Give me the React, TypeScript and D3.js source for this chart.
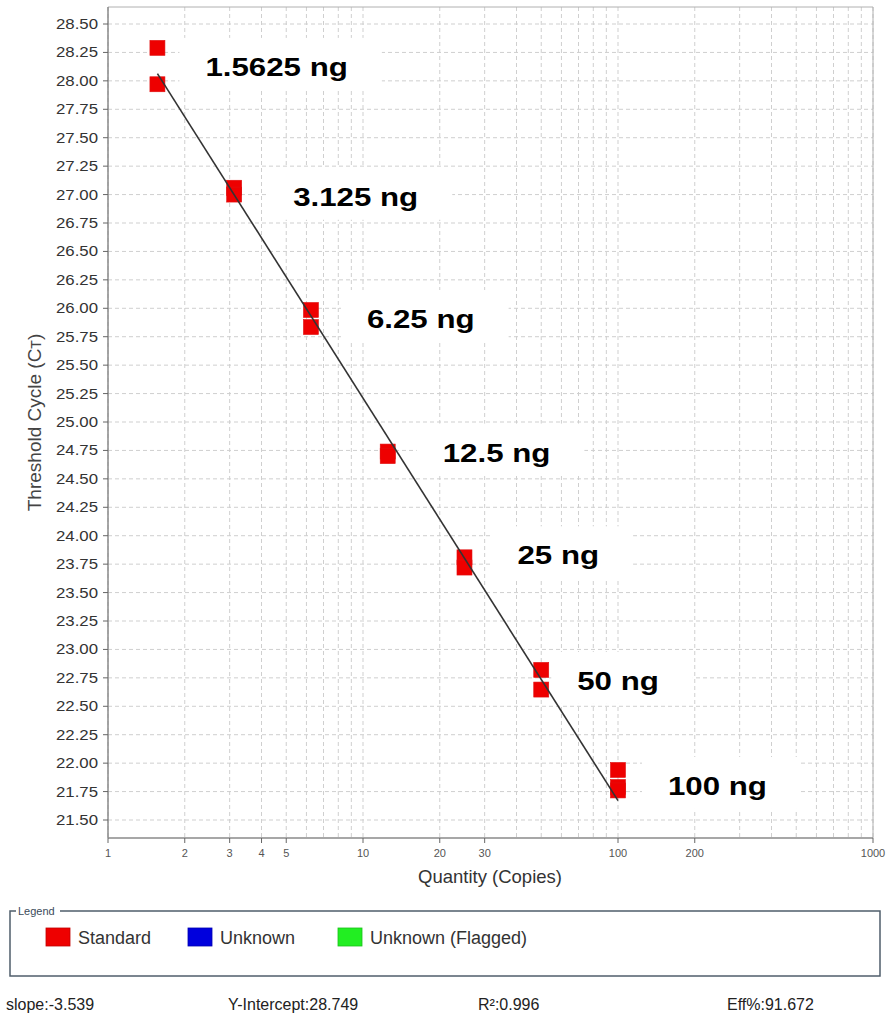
import React from 'react';
import * as d3 from 'd3';

// standard curve data (quantity -> replicate Ct values)
const quantities = [1.5625, 3.125, 6.25, 12.5, 25, 50, 100];
const ctReplicates = [
  [28.29, 27.97],
  [27.06, 27.0],
  [25.985, 25.835],
  [24.74, 24.7],
  [23.81, 23.72],
  [22.82, 22.647],
  [21.94, 21.79, 21.76],
];
const amountLabels = ['1.5625 ng', '3.125 ng', '6.25 ng', '12.5 ng', '25 ng', '50 ng', '100 ng'];
// label placement relative to the top replicate of each group (px)
const labelOffsets = [[48, 28], [59, 18], [56, 18], [55, 10], [53, 7], [36, 20], [50, 25]];

const xTickLabels = [1, 2, 3, 4, 5, 10, 20, 30, 100, 200, 1000];
const yTickValues = d3.range(0, 29).map((i) => 21.5 + i * 0.25);

const slope = -3.539;
const intercept = 28.749;
const rSquared = 0.996;
const efficiency = 91.672;

const legendNames = ['Standard', 'Unknown', 'Unknown (Flagged)'];
const legendColors = ['#ee0000', '#0000dd', '#22ee22'];

const W = 888, H = 1018;
const plot = { left: 108, right: 873, top: 7, bottom: 838 };
const font = 'Arial, "Liberation Sans", sans-serif';

// rough Arial Bold advance widths (em)
const boldWidth = (s: string) =>
  s.split('').reduce((a, c) => a + (c === '.' || c === ' ' ? 0.278 : c === 'n' || c === 'g' ? 0.611 : 0.556), 0);

export default function App() {
  const x = d3.scaleLog().domain([1, 1000]).range([plot.left, plot.right]);
  const y = d3.scaleLinear().domain([21.5, 28.5]).range([820, 24]);

  const gridX: number[] = [];
  [1, 10, 100].forEach((d) => {
    for (let k = 1; k <= 9; k++) gridX.push(d * k);
  });
  gridX.push(1000);

  const fit = (q: number) => intercept + slope * Math.log10(q);
  const line = d3.line<number>().x((q) => x(q)).y((q) => y(fit(q)));

  const labelSize = 25;
  const labelStretch = 1.25;

  return (
    <div style={{ position: 'absolute', left: 0, top: 0 }}>
      <svg width={W} height={H} style={{ display: 'block', background: '#fff' }} fontFamily={font}>
        <rect x={0} y={0} width={W} height={H} fill="#fff" />
        {/* grid */}
        {yTickValues.map((t) => (
          <line key={'gy' + t} x1={plot.left} x2={plot.right} y1={y(t)} y2={y(t)} stroke="#cfcfcf" strokeDasharray="4,3" />
        ))}
        {gridX.map((t) => (
          <line key={'gx' + t} x1={x(t)} x2={x(t)} y1={plot.top} y2={plot.bottom} stroke="#cfcfcf" strokeDasharray="4,3" />
        ))}
        {/* frame */}
        <line x1={plot.left} x2={plot.right} y1={plot.top} y2={plot.top} stroke="#b0b0b0" />
        <line x1={plot.right} x2={plot.right} y1={plot.top} y2={plot.bottom} stroke="#b0b0b0" />
        <line x1={plot.left} x2={plot.left} y1={plot.top} y2={plot.bottom} stroke="#8a8a8a" strokeWidth={1.5} />
        <line x1={plot.left} x2={plot.right} y1={plot.bottom} y2={plot.bottom} stroke="#8a8a8a" strokeWidth={1.5} />

        {/* y axis */}
        {yTickValues.map((t) => (
          <g key={'ty' + t} transform={`translate(0,${y(t)})`}>
            <line x1={plot.left - 5} x2={plot.left} stroke="#666" />
            <text
              transform={`translate(98,0) scale(1.2,1)`}
              textAnchor="end"
              dy="0.36em"
              fontSize={14}
              fill="#333"
            >
              {d3.format('.2f')(t)}
            </text>
          </g>
        ))}
        <text
          transform={`translate(41,${(plot.top + plot.bottom) / 2}) rotate(-90)`}
          textAnchor="middle"
          fontSize={19}
          fill="#444"
        >
          Threshold Cycle (C<tspan fontSize={14}>T</tspan>)
        </text>

        {/* x axis */}
        {xTickLabels.map((t) => (
          <g key={'tx' + t} transform={`translate(${x(t)},${plot.bottom})`}>
            <line y1={0} y2={5} stroke="#666" />
            <text y={19} textAnchor="middle" fontSize={11} fill="#555">
              {t}
            </text>
          </g>
        ))}
        <text x={490} y={883} textAnchor="middle" fontSize={18.5} fill="#333">
          Quantity (Copies)
        </text>

        {/* label backgrounds */}
        {quantities.map((q, i) => {
          const tx = x(q) + labelOffsets[i][0];
          const ty = y(d3.max(ctReplicates[i])!) + labelOffsets[i][1];
          const w = boldWidth(amountLabels[i]) * labelSize * labelStretch;
          return <rect key={'lb' + i} x={tx - 26} y={ty - 38} width={w + 60} height={52} fill="#fff" />;
        })}

        {/* markers */}
        {quantities.map((q, i) =>
          ctReplicates[i].map((ct, j) => (
            <rect
              key={`m${i}-${j}`}
              x={x(q) - 7.5}
              y={y(ct) - 7.5}
              width={15}
              height={15}
              fill="#ee0000"
              stroke="#e01010"
              strokeWidth={0.6}
            />
          ))
        )}

        {/* regression line */}
        <path d={line([quantities[0], quantities[quantities.length - 1]])!} stroke="#333" strokeWidth={1.6} fill="none" />

        {/* amount labels */}
        {quantities.map((q, i) => {
          const tx = x(q) + labelOffsets[i][0];
          const ty = y(d3.max(ctReplicates[i])!) + labelOffsets[i][1];
          return (
            <text
              key={'lt' + i}
              transform={`translate(${tx},${ty}) scale(${labelStretch},1)`}
              fontSize={labelSize}
              fontWeight="bold"
              fill="#000"
            >
              {amountLabels[i]}
            </text>
          );
        })}

        {/* legend */}
        <rect x={10} y={911} width={870} height={65} fill="none" stroke="#4f5d6b" strokeWidth={1.5} />
        <rect x={16} y={904} width={44} height={14} fill="#fff" />
        <text x={18} y={915} fontSize={11} fill="#3a4a5a">
          Legend
        </text>
        {legendNames.map((name, i) => {
          const lx = [46, 188, 338][i];
          return (
            <g key={name}>
              <rect x={lx} y={928} width={24} height={18} fill={legendColors[i]} stroke={d3.color(legendColors[i])!.darker(0.6).toString()} strokeWidth={0.8} />
              <text x={lx + 32} y={944} fontSize={18} fill="#333">
                {name}
              </text>
            </g>
          );
        })}

        {/* footer */}
        <g fontSize={16} fill="#222">
          <text x={6} y={1010}>slope:{slope}</text>
          <text x={228} y={1010}>Y-Intercept:{intercept}</text>
          <text x={478} y={1010}>R²:{rSquared}</text>
          <text x={727} y={1010}>Eff%:{efficiency}</text>
        </g>
      </svg>
    </div>
  );
}
